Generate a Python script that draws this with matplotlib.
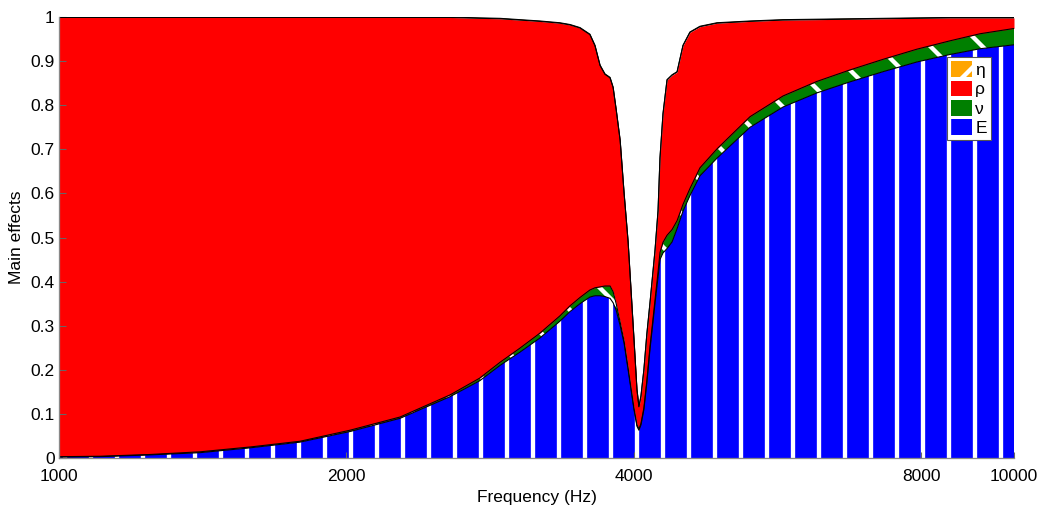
import numpy as np
import matplotlib
matplotlib.use("Agg")
import matplotlib.pyplot as plt

# frequency grid (Hz) and main effects
freq = [1000, 1104, 1245, 1404, 1585, 1788, 2017, 2276, 2567, 2757,
        2896, 3038, 3188, 3345, 3428, 3512, 3597, 3641, 3686, 3730,
        3776, 3804, 3832, 3869, 3906, 3944, 3972, 4000, 4029, 4048,
        4068, 4097, 4126, 4157, 4208, 4239, 4259, 4290, 4332, 4385,
        4438, 4502, 4578, 4690, 4887, 5292, 5731, 6219, 6734, 7292,
        7912, 8570, 9212, 10000]

E = [0.002, 0.003, 0.007, 0.012, 0.023, 0.036, 0.060, 0.090, 0.139, 0.175,
     0.210, 0.240, 0.272, 0.310, 0.332, 0.350, 0.365, 0.368, 0.368, 0.366,
     0.362, 0.352, 0.335, 0.300, 0.260, 0.200, 0.155, 0.110, 0.072, 0.063,
     0.075, 0.110, 0.170, 0.245, 0.350, 0.410, 0.450, 0.465, 0.475, 0.490,
     0.520, 0.560, 0.595, 0.640, 0.680, 0.750, 0.796, 0.828, 0.853, 0.876,
     0.898, 0.915, 0.928, 0.937]

nu = [0.001, 0.001, 0.001, 0.002, 0.002, 0.002, 0.003, 0.003, 0.004, 0.006,
      0.007, 0.009, 0.011, 0.012, 0.013, 0.014, 0.016, 0.018, 0.020, 0.024,
      0.028, 0.025, 0.015, 0.008, 0.005, 0.004, 0.003, 0.003, 0.003, 0.003,
      0.003, 0.004, 0.005, 0.006, 0.008, 0.012, 0.016, 0.024, 0.030, 0.028,
      0.018, 0.015, 0.016, 0.018, 0.021, 0.024, 0.025, 0.026, 0.027, 0.028,
      0.029, 0.031, 0.034, 0.037]

rho = [0.996, 0.995, 0.991, 0.985, 0.974, 0.961, 0.936, 0.906, 0.856, 0.816,
       0.779, 0.744, 0.707, 0.664, 0.637, 0.611, 0.579, 0.549, 0.502, 0.480,
       0.472, 0.463, 0.440, 0.412, 0.335, 0.286, 0.222, 0.157, 0.080, 0.050,
       0.062, 0.086, 0.105, 0.099, 0.112, 0.138, 0.214, 0.291, 0.352, 0.350,
       0.337, 0.360, 0.354, 0.320, 0.285, 0.216, 0.172, 0.140, 0.115, 0.092,
       0.070, 0.052, 0.036, 0.024]

eta = [0.001, 0.001, 0.001, 0.001, 0.001, 0.001, 0.001, 0.001, 0.001, 0.001,
       0.001, 0.001, 0.001, 0.001, 0.001, 0.001, 0.001, 0.001, 0.001, 0.001,
       0.001, 0.001, 0.001, 0.001, 0.001, 0.001, 0.001, 0.001, 0.001, 0.001,
       0.001, 0.001, 0.001, 0.001, 0.001, 0.001, 0.001, 0.001, 0.001, 0.001,
       0.001, 0.001, 0.001, 0.001, 0.001, 0.001, 0.001, 0.001, 0.001, 0.001,
       0.001, 0.001, 0.001, 0.001]

names = ["E", "\u03bd", "\u03c1", "\u03b7"]
colors = ["#0000ff", "#007f00", "#ff0000", "#ffa500"]
hatches = ["|", "\\", None, "/"]

plt.rcParams["font.family"] = ["Liberation Sans", "DejaVu Sans"]
plt.rcParams["hatch.linewidth"] = 2.0

fig = plt.figure(figsize=(1040 / 156, 506 / 156), dpi=156)
ax = fig.add_axes([59 / 1040, 48 / 506, 955 / 1040, 441 / 506])

f = np.array(freq)
layers = np.cumsum(np.vstack([E, nu, rho, eta]), axis=0)
lower = np.zeros_like(f, dtype=float)
for i in range(4):
    upper = layers[i]
    ax.fill_between(f, lower, upper, facecolor=colors[i],
                    edgecolor="white" if hatches[i] else colors[i],
                    hatch=hatches[i], linewidth=0, label=names[i])
    ax.plot(f, upper, color="black", lw=0.5)
    lower = upper

ax.set_xscale("log")
ax.set_xlim(1000, 10000)
ax.set_ylim(0, 1)
ax.set_xticks([1000, 2000, 4000, 8000, 10000])
ax.set_xticklabels(["1000", "2000", "4000", "8000", "10000"])
ax.xaxis.set_minor_locator(matplotlib.ticker.NullLocator())
ax.set_yticks(np.arange(0, 1.01, 0.1))
ax.set_yticklabels(["0", "0.1", "0.2", "0.3", "0.4", "0.5", "0.6", "0.7", "0.8", "0.9", "1"])
ax.tick_params(direction="in", length=3, width=0.5, color="#666666", labelsize=8)
ax.tick_params(axis="x", pad=5)
ax.tick_params(axis="y", pad=2)
for side in ["top", "right"]:
    ax.spines[side].set_visible(False)
for side in ["left", "bottom"]:
    ax.spines[side].set_color("#888888")
    ax.spines[side].set_linewidth(0.6)

ax.set_xlabel("Frequency (Hz)", fontsize=8, labelpad=3)
ax.set_ylabel("Main effects", fontsize=8, labelpad=3)

handles, labels = ax.get_legend_handles_labels()
leg = ax.legend(handles[::-1], labels[::-1], loc="upper right",
                bbox_to_anchor=(0.976, 0.909), fontsize=8, fancybox=False,
                framealpha=1, edgecolor="#555555", handlelength=1.2,
                handleheight=1.0, handletextpad=0.2, labelspacing=0.15,
                borderpad=0.25, borderaxespad=0)
leg.get_frame().set_linewidth(0.5)

fig.savefig("out.png", dpi=156)
